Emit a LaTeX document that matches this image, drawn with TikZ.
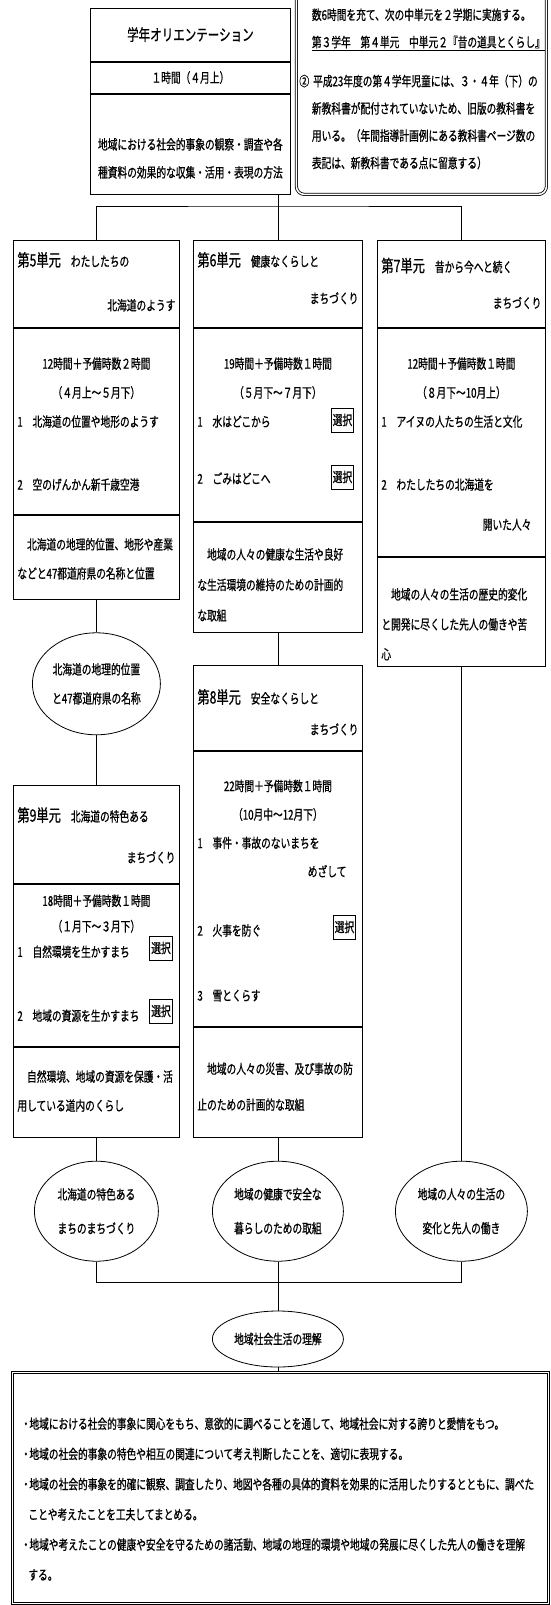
\documentclass[tikz,border=0pt]{standalone}
\usepackage{fontspec}
\setmainfont{Noto Sans CJK JP}[FakeStretch=0.72, FakeBold=0.8]
\usetikzlibrary{positioning,shapes.geometric}

\newcommand\bodyat[1]{\fontsize{13.5pt}{#1pt}\selectfont}
\newcommand\unitfont{\fontsize{17pt}{29pt}\selectfont}
\newcommand\lnmid[1]{\makebox[\linewidth]{#1}}
\newcommand\lnright[1]{\makebox[\linewidth][r]{#1}}
\newcommand\dotmark{\makebox[7pt]{・}}

\tikzset{
  part/.style={draw, anchor=north west, inner xsep=4pt, inner ysep=0pt, align=left, font=\bodyat{29}},
  col1/.style={part, text width=158pt},
  col2/.style={part, text width=161pt},
  col3/.style={part, text width=160pt},
  oval/.style={draw, ellipse, inner sep=0pt, align=center, font=\bodyat{34}, minimum height=100pt},
  sel/.style={draw, inner xsep=1.5pt, inner ysep=0pt, minimum height=24pt, font=\bodyat{29}},
  frame/.style={draw, double, double distance=1.5pt, inner ysep=0pt, align=left}
}

\begin{document}
\begin{tikzpicture}[x=1pt, y=-1pt, line width=0.8pt]
\useasboundingbox (0,0) rectangle (550,1605);

% orientation
\node[part, text width=192pt, align=center, text height=32.3pt, text depth=20.7pt,
  font=\fontsize{16pt}{29pt}\selectfont] (ori1) at (90,8) {学年オリエンテーション};
\node[part, text width=192pt, align=center, text height=20.5pt, text depth=10.5pt]
  (ori2) at (ori1.south west) {１時間（４月上）};
\node[part, text width=192pt, align=center, text height=55.5pt, text depth=44.5pt, font=\bodyat{28}]
  (ori3) at (ori2.south west) {地域における社会的事象の観察・調査や各\\種資料の効果的な収集・活用・表現の方法};

% note
\node[frame, rounded corners=8pt, anchor=north west, inner xsep=3pt, text width=244pt,
  text height=59.5pt, text depth=174.5pt, font=\bodyat{27.3}] (note) at (296,-40)
  {\hspace*{12.5pt}数6時間を充て、次の中単元を２学期に実施する。\\
   \hspace*{12.5pt}\underline{第３学年　第４単元　中単元２『昔の道具とくらし』}\\[11.7pt]
   ②\hspace{4pt}平成23年度の第４学年児童には、３・４年（下）の\\
   \hspace*{12.5pt}新教科書が配付されていないため、旧版の教科書を\\
   \hspace*{12.5pt}用いる。（年間指導計画例にある教科書ページ数の\\
   \hspace*{12.5pt}表記は、新教科書である点に留意する）};

% unit 5
\node[col1, text height=26pt, text depth=61pt] (u5a) at (13,240)
  {{\unitfont 第5単元}\hspace{10pt}わたしたちの\\[15pt]\lnright{北海道のようす}};
\node[col1, text height=40.5pt, text depth=145.5pt] (u5b) at (u5a.south west)
  {\lnmid{12時間＋予備時数２時間}\\ \lnmid{（４月上～５月下）}\\
   1　北海道の位置や地形のようす\\[34pt] 2　空のげんかん新千歳空港};
\node[col1, text height=34.5pt, text depth=49.5pt] (u5c) at (u5b.south west)
  {　北海道の地理的位置、地形や産業\\などと47都道府県の名称と位置};
\node[oval, minimum width=128pt, minimum height=102pt, font=\bodyat{29}, below=33pt of u5c] (e1)
  {北海道の地理的位置\\と47都道府県の名称};

% unit 9
\node[col1, below=50pt of e1, text height=36pt, text depth=62pt] (u9a)
  {{\unitfont 第9単元}\hspace{10pt}北海道の特色ある\\[12pt]\lnright{まちづくり}};
\node[col1, text height=21.5pt, text depth=140.5pt, font=\bodyat{25.5}] (u9b) at (u9a.south west)
  {\lnmid{18時間＋予備時数１時間}\\ \lnmid{（１月下～３月下）}\\
   1　自然環境を生かすまち\\[38.5pt] 2　地域の資源を生かすまち};
\node[col1, text height=34.5pt, text depth=55.5pt] (u9c) at (u9b.south west)
  {　自然環境、地域の資源を保護・活\\用している道内のくらし};
\node[sel] (s9a) at (161,948) {選択};
\node[sel] (s9b) at (161,1011) {選択};

% unit 6
\node[col2, text height=26pt, text depth=61pt] (u6a) at (193,240)
  {{\unitfont 第6単元}\hspace{10pt}健康なくらしと\\[8pt]\lnright{まちづくり}};
\node[col2, text height=40.5pt, text depth=152.5pt] (u6b) at (u6a.south west)
  {\lnmid{19時間＋予備時数１時間}\\ \lnmid{（５月下～７月下）}\\
   1　水はどこから\\[28pt] 2　ごみはどこへ};
\node[col2, text height=37.5pt, text depth=72.5pt, font=\bodyat{30.5}] (u6c) at (u6b.south west)
  {　地域の人々の健康な生活や良好\\な生活環境の維持のための計画的\\な取組};
\node[sel] (s6a) at (342.5,420) {選択};
\node[sel] (s6b) at (342.5,477) {選択};

% unit 8
\node[col2, below=33pt of u6c, text height=37.7pt, text depth=47.3pt] (u8a)
  {{\unitfont 第8単元}\hspace{10pt}安全なくらしと\\[2pt]\lnright{まちづくり}};
\node[col2, text height=39.5pt, text depth=235.5pt, font=\bodyat{28.5}] (u8b) at (u8a.south west)
  {\lnmid{22時間＋予備時数１時間}\\ \lnmid{（10月中～12月下）}\\
   1　事件・事故のないまちを\\ \lnright{めざして\hspace{12pt}}\\[30.5pt]
   2　火事を防ぐ\\[36.5pt] 3　雪とくらす};
\node[col2, text height=46.5pt, text depth=63.5pt, font=\bodyat{36}] (u8c) at (u8b.south west)
  {　地域の人々の災害、及び事故の防\\止のための計画的な取組};
\node[sel] (s8) at (344.5,927) {選択};

% unit 7
\node[col3, text height=31.7pt, text depth=55.3pt] (u7a) at (377,240)
  {{\unitfont 第7単元}\hspace{10pt}昔から今へと続く\\[7pt]\lnright{まちづくり}};
\node[col3, text height=40.5pt, text depth=187.5pt] (u7b) at (u7a.south west)
  {\lnmid{12時間＋予備時数１時間}\\ \lnmid{（８月下～10月上）}\\
   1　アイヌの人たちの生活と文化\\[34pt] 2　わたしたちの北海道を\\[11pt]
   \lnright{開いた人々\hspace{10pt}}};
\node[col3, text height=42.5pt, text depth=66.5pt, font=\bodyat{30}] (u7c) at (u7b.south west)
  {　地域の人々の生活の歴史的変化\\と開発に尽くした先人の働きや苦\\心};

% summary ovals
\node[oval, minimum width=131pt, below=23pt of u8c] (r2) {地域の健康で安全な\\暮らしのための取組};
\node[oval, minimum width=124pt] (r1) at (u9c.south |- r2) {北海道の特色ある\\まちのまちづくり};
\node[oval, minimum width=132pt] (r3) at (u7c.south |- r2) {地域の人々の生活の\\変化と先人の働き};
\node[oval, minimum width=131pt, minimum height=56pt, below=49pt of r2] (fin) {地域社会生活の理解};

% goal
\node[frame, anchor=north west, inner xsep=10pt, text width=516pt,
  text height=56.5pt, text depth=174.5pt, font=\bodyat{30.2}] (goal) at (12,1372)
  {\dotmark 地域における社会的事象に関心をもち、意欲的に調べることを通して、地域社会に対する誇りと愛情をもつ。\\
   \dotmark 地域の社会的事象の特色や相互の関連について考え判断したことを、適切に表現する。\\
   \dotmark 地域の社会的事象を的確に観察、調査したり、地図や各種の具体的資料を効果的に活用したりするとともに、調べた\\
   \hspace*{6pt}ことや考えたことを工夫してまとめる。\\
   \dotmark 地域や考えたことの健康や安全を守るための諸活動、地域の地理的環境や地域の発展に尽くした先人の働きを理解\\
   \hspace*{6pt}する。};

% connectors
\coordinate (hub) at (u6a.north |- 0,206);
\draw (ori3.south -| hub) -- (hub) -- (u6a.north);
\draw (u5a.north) |- (hub) -| (u7a.north);
\draw (u5c.south) -- (e1.north);
\draw (e1.south) -- (u9a.north);
\draw (u6c.south) -- (u8a.north);
\draw (u9c.south) -- (r1.north);
\draw (u8c.south) -- (r2.north);
\draw (u7c.south) -- (r3.north);
\coordinate (join) at (r2.south |- 0,1282);
\draw (r1.south) |- (join) -| (r3.south);
\draw (r2.south) -- (fin.north);
\draw (fin.south) -- (fin.south |- goal.north);
\end{tikzpicture}
\end{document}
